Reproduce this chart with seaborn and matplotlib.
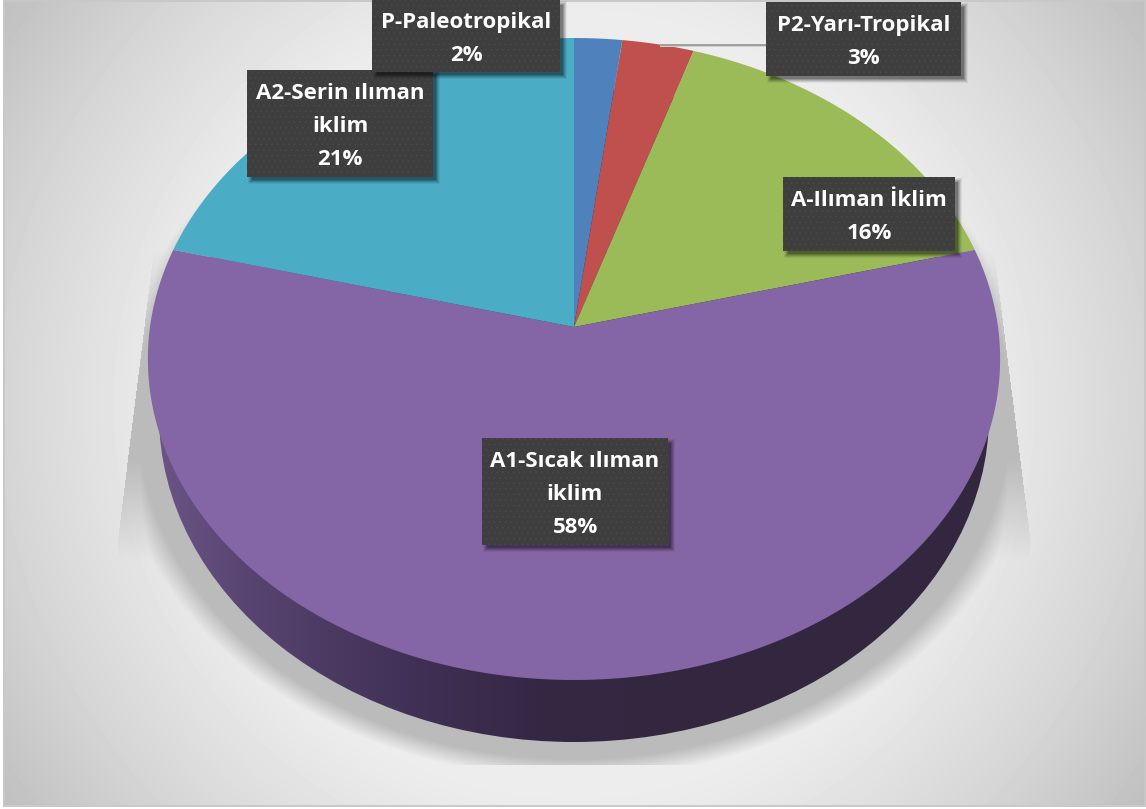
import numpy as np
import matplotlib
matplotlib.use("Agg")
import matplotlib.pyplot as plt
from matplotlib.patches import Rectangle, Ellipse
from matplotlib.path import Path
from matplotlib.transforms import Affine2D
import seaborn as sns

# ---- data -------------------------------------------------------------
categories = ["P-Paleotropikal", "P2-Yarı-Tropikal", "A-Ilıman İklim",
              "A1-Sıcak ılıman\niklim", "A2-Serin ılıman\niklim"]
values = [2, 3, 16, 58, 21]
slice_colors = ["#4f81bd", "#c0504d", "#9bbb59", "#8465a5", "#4bacc6"]

# ---- layout (pixels) ---------------------------------------------------
W, H = 1146, 809
label_boxes = [(372, 0, 560, 72), (766, 2, 961, 76), (783, 177, 955, 251),
               (482, 438, 668, 545), (247, 70, 433, 177)]

sns.set_theme(style="white")
plt.rcParams["font.family"] = ["Open Sans", "DejaVu Sans"]
plt.rcParams["hatch.linewidth"] = 0.3
palette = sns.color_palette(slice_colors)

fig = plt.figure(figsize=(W / 100, H / 100), dpi=100, facecolor="white")
ax = fig.add_axes([0, 0, 1, 1])

# pie first, so that it owns the slices
wedges, _ = ax.pie(values, colors=palette, startangle=90, counterclock=False,
                   wedgeprops=dict(linewidth=0, zorder=5))
ax.set_aspect("auto")
ax.set_xlim(0, W)
ax.set_ylim(H, 0)
ax.axis("off")

# perspective tilt of the unit-circle pie into pixel space
CX, CY, C, A, P = 574.0, 327.0, 424.0, 317.8, 0.0997
for w in wedges:
    poly = w.get_path().transformed(Affine2D().scale(2000)).to_polygons()[0] / 2000
    den = 1 + P * poly[:, 1]
    w._path = Path(np.column_stack([CX + C * poly[:, 0] / den,
                                    CY - A * poly[:, 1] / den]))

# background gradient
xx, yy = np.meshgrid(np.arange(W) + .5, np.arange(H) + .5)
dist = np.hypot(xx - 574, yy - 404)
grey = np.interp(dist, [0, 400, 454, 570, 700], [0xf2, 0xec, 0xe5, 0xd5, 0xbf]) / 255
ax.imshow(grey, cmap="gray", vmin=0, vmax=1, extent=(0, W, H, 0), zorder=0,
          aspect="auto", clip_on=True)
ax.imshow(np.ones((2, 2)), cmap="gray", vmin=0, vmax=1, extent=(0, 3, H, 0), zorder=0.1, aspect="auto")
ax.imshow(np.ones((2, 2)), cmap="gray", vmin=0, vmax=1, extent=(0, W, H, 805), zorder=0.1, aspect="auto")
ax.add_patch(Rectangle((3.5, 0.5), 1141, 805, fill=False, ec="#c8c8c8", lw=1.4, zorder=0.2))

# floor shadow: blurred ellipse plus side wedges
r = np.hypot((xx - 574) / 415, (yy - 415) / 327)
d = (r - 1) * 380
a_ell = np.clip((42 - d) / 22, 0, 1)
left = np.interp(yy, [250, 540], [154, 118])
right = np.interp(yy, [250, 537], [994, 1030])
inside = (xx > left) & (xx < right)
a_ell[~inside] = 0
a_w = inside.astype(float)
a_w *= np.interp(yy, [250, 380, 460, 560], [0, 1, 1, 0])
alpha = np.maximum(a_ell, a_w)
alpha[yy > 765] = 0
rgba = np.zeros((H, W, 4))
rgba[..., :3] = 0xbb / 255
rgba[..., 3] = alpha
ax.imshow(rgba, extent=(0, W, H, 0), zorder=1, aspect="auto")

# side wall of the disc, horizontal gradient clipped to the lower ellipse
gx = np.arange(W) + .5
stops_x = [150, 250, 400, 550, 700, 1000]
side = np.column_stack([
    np.interp(gx, stops_x, [0x6c, 0x58, 0x42, 0x34, 0x33, 0x33]),
    np.interp(gx, stops_x, [0x56, 0x44, 0x31, 0x27, 0x27, 0x27]),
    np.interp(gx, stops_x, [0x88, 0x70, 0x58, 0x42, 0x40, 0x40]),
]) / 255
im = ax.imshow(side[None, :, :], extent=(0, W, H, 0), zorder=3, aspect="auto")
clip = Ellipse((574, 415), 830, 654, transform=ax.transData)
im.set_clip_path(clip)

# leader line of the P2 label
ax.plot([660, 766], [46, 46], color="#d0d0d0", lw=1.4, zorder=6, solid_capstyle="butt")
ax.plot([660, 766], [44.7, 44.7], color="#9a9a9a", lw=1.3, zorder=6.1, solid_capstyle="butt")

# data labels
for i, (cat, val, box) in enumerate(zip(categories, values, label_boxes)):
    x0, y0, x1, y1 = box
    z = 7 + (0 if i != 0 else 1) + i * 0.01
    for grow, al in ((3, .06), (2, .09), (1, .12), (0, .15), (-1, .2)):
        ax.add_patch(Rectangle((x0 + 4 - grow, y0 + 4 - grow), x1 - x0 + 2 * grow, y1 - y0 + 2 * grow,
                               fc="black", ec="none", alpha=al, zorder=z))
    ax.add_patch(Rectangle((x0, y0), x1 - x0, y1 - y0, fc="#3e3e3e", ec="none", zorder=z + .001))
    ax.add_patch(Rectangle((x0, y0), x1 - x0, y1 - y0, fc="none", ec="#4c4c4c", lw=0,
                           hatch="...", zorder=z + .002))
    ax.text((x0 + x1) / 2, (y0 + y1) / 2 + 3, f"{cat}\n{val}%", color="white", fontsize=16,
            fontweight="bold", ha="center", va="center", linespacing=1.72, zorder=z + .003)

fig.savefig("out.png", dpi=100, facecolor="white")
